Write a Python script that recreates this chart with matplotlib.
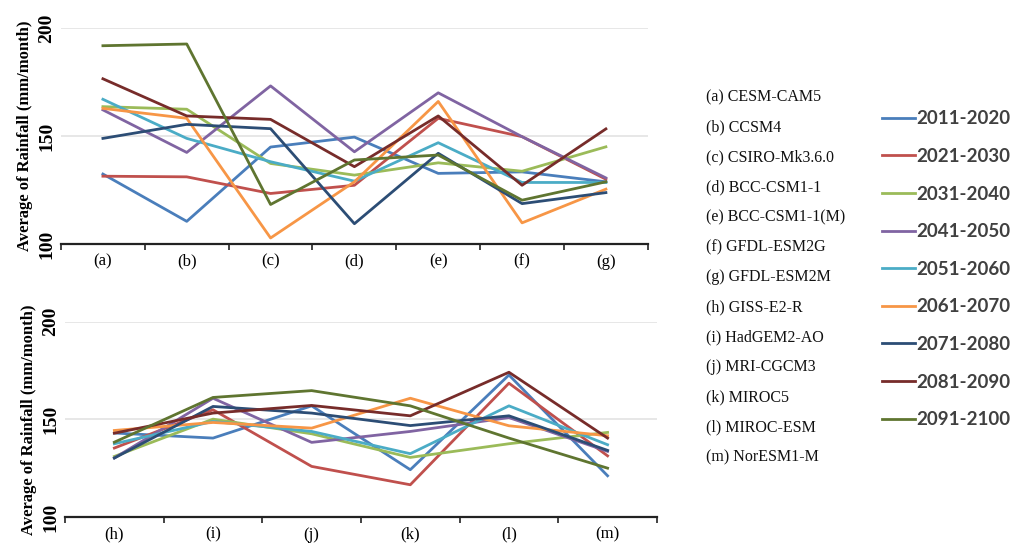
import numpy as np
import matplotlib
matplotlib.use("Agg")
import matplotlib.pyplot as plt

# ---- data ----
periods = ["2011-2020", "2021-2030", "2031-2040", "2041-2050", "2051-2060", "2061-2070",
           "2071-2080", "2081-2090", "2091-2100"]
colors = ["#4A7EBB", "#C0504D", "#9BBB59", "#8064A2", "#4BACC6", "#F79646",
          "#2C4D75", "#772C2A", "#5F7530"]

top_cats = ["(a)", "(b)", "(c)", "(d)", "(e)", "(f)", "(g)"]
top_vals = [
    [132.4, 110.5, 144.9, 149.5, 132.7, 133.4, 128.8],
    [131.4, 131.1, 123.4, 127.2, 158.2, 149.7, 130.0],
    [163.6, 162.4, 137.3, 131.9, 137.6, 133.7, 145.0],
    [162.1, 142.4, 173.2, 142.7, 170.0, 149.7, 130.6],
    [167.0, 148.9, 138.1, 129.1, 146.9, 128.5, 128.5],
    [162.8, 158.2, 102.8, 128.8, 166.0, 109.8, 125.4],
    [148.9, 155.4, 153.4, 109.4, 142.0, 118.7, 123.8],
    [176.5, 159.3, 157.7, 135.8, 159.3, 127.2, 153.3],
    [191.8, 192.6, 118.3, 138.9, 141.2, 120.3, 128.8],
]

bot_cats = ["(h)", "(i)", "(j)", "(k)", "(l)", "(m)"]
bot_vals = [
    [143.0, 140.4, 156.9, 124.2, 172.7, 121.1],
    [135.3, 154.9, 125.9, 116.5, 168.5, 131.3],
    [131.0, 150.1, 142.6, 130.5, 137.5, 143.3],
    [130.2, 160.8, 138.2, 143.8, 150.9, 133.6],
    [137.5, 148.9, 143.8, 132.4, 156.9, 137.0],
    [144.3, 148.4, 145.5, 160.8, 146.7, 141.6],
    [130.2, 156.6, 153.2, 146.8, 151.8, 134.1],
    [142.9, 153.2, 157.1, 151.8, 174.1, 140.4],
    [138.3, 161.2, 164.7, 156.9, 140.4, 125.0],
]

models = ["(a) CESM-CAM5", "(b) CCSM4", "(c) CSIRO-Mk3.6.0", "(d) BCC-CSM1-1",
          "(e) BCC-CSM1-1(M)", "(f) GFDL-ESM2G", "(g) GFDL-ESM2M", "(h) GISS-E2-R",
          "(i) HadGEM2-AO", "(j) MRI-CGCM3", "(k) MIROC5", "(l) MIROC-ESM",
          "(m) NorESM1-M"]

serif = "Liberation Serif"

fig = plt.figure(figsize=(10.1, 5.43), dpi=100)
ax1 = fig.add_axes([0.0604, 0.5506, 0.581, 0.3978])
ax2 = fig.add_axes([0.0644, 0.0479, 0.586, 0.3597])


def style(ax, cats, vals):
    x = np.arange(len(cats))
    lines = []
    for v, c, p in zip(vals, colors, periods):
        ln, = ax.plot(x, v, color=c, lw=2, label=p)
        lines.append(ln)
    ax.set_xlim(-0.5, len(cats) - 0.5)
    ax.set_ylim(100, 200)
    ax.set_yticks([100, 150, 200])
    ax.set_yticklabels(["100", "150", "200"], rotation=90, va="center",
                       fontfamily=serif, fontweight="bold", fontsize=14)
    ax.set_xticks(x)
    ax.set_xticklabels(cats, fontfamily=serif, fontsize=12)
    ax.set_xticks(np.arange(len(cats) + 1) - 0.5, minor=True)
    ax.tick_params(axis="x", which="major", length=0, pad=7)
    ax.tick_params(axis="x", which="minor", length=4, width=1.2, direction="out", color="#222222")
    ax.tick_params(axis="y", length=0, pad=4)
    ax.grid(axis="y", color="#e3e3e3", lw=1.2)
    ax.set_axisbelow(True)
    for s in ["left", "right", "top"]:
        ax.spines[s].set_visible(False)
    ax.spines["bottom"].set_linewidth(1.6)
    ax.spines["bottom"].set_color("#222222")
    ax.set_ylabel("Average of Rainfall (mm/month)", fontfamily=serif,
                  fontweight="bold", fontsize=12, labelpad=4)
    return lines


lines = style(ax1, top_cats, top_vals)
style(ax2, bot_cats, bot_vals)

for i, m in enumerate(models):
    fig.text(0.699, 1 - (97 + i * 30.0) / 543, m, fontfamily=serif, fontsize=11.5,
             va="center", ha="left", color="#111111")

fig.legend(handles=lines, loc="upper left", bbox_to_anchor=(0.857, 0.828),
           frameon=False, handlelength=1.75, handletextpad=0.05, labelspacing=1.1,
           prop={"family": "Lato", "weight": "bold", "size": 13.5},
           labelcolor="#404040")

fig.savefig("out.png", dpi=100)
